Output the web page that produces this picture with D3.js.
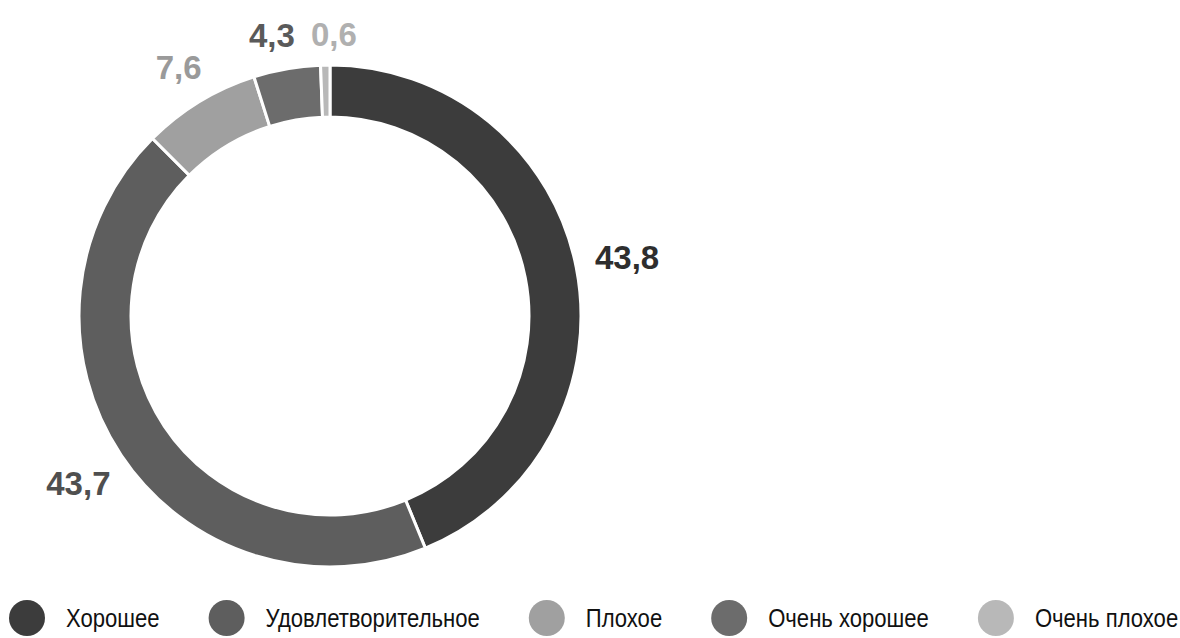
<!DOCTYPE html>
<html>
<head>
<meta charset="utf-8">
<script src="https://cdn.jsdelivr.net/npm/d3@7"></script>
<style>
    body { margin: 0; background: #fff; }
    svg { display: block; }
</style>
</head>
<body>
<script>
// data (percent)
var categories = ["Хорошее", "Удовлетворительное", "Плохое", "Очень хорошее", "Очень плохое"];
var values = [43.8, 43.7, 7.6, 4.3, 0.6];
var valueLabels = ["43,8", "43,7", "7,6", "4,3", "0,6"];
var colors = ["#3c3c3c", "#5e5e5e", "#a0a0a0", "#6c6c6c", "#b8b8b8"];
var labelColors = ["#2e2e2e", "#4f4f4f", "#9a9a9a", "#5a5a5a", "#b0b0b0"];

var w = 1180;
var h = 638;
var center = {x: 330, y: 316};
var outerR = 251,
    innerR = 199,
    labelPad = 18,
    labelSize = 33;

var svg = d3.select("body").append("svg")
    .attr("width", w)
    .attr("height", h);

var chart = svg.append("g")
    .attr("transform", "translate(" + center.x + "," + center.y + ")");

var pie = d3.pie()
    .sort(null)
    .value(function (d) { return d; });

var arcs = pie(values);

var arc = d3.arc()
    .innerRadius(innerR)
    .outerRadius(outerR);

chart.selectAll(".slice")
    .data(arcs)
    .enter()
    .append("path")
    .classed("slice", true)
    .attr("d", arc)
    .style("fill", function (d, i) { return colors[i]; })
    .style("stroke", "#fff")
    .style("stroke-width", 3);

var labels = chart.selectAll(".value")
    .data(arcs)
    .enter()
    .append("text")
    .classed("value", true)
    .attr("text-anchor", "middle")
    .attr("dominant-baseline", "central")
    .style("font-family", "'Liberation Sans', Arial, sans-serif")
    .style("font-weight", "bold")
    .style("font-size", labelSize + "px")
    .style("fill", function (d, i) { return labelColors[i]; })
    .text(function (d, i) { return valueLabels[i]; });

// put each label just outside the ring, so that its box keeps a fixed gap
var pos = [];
labels.each(function (d) {
    var a = (d.startAngle + d.endAngle) / 2;
    var tw = this.getComputedTextLength();
    var th = labelSize * 0.72;
    var r = outerR + labelPad + tw / 2 * Math.abs(Math.sin(a)) + th / 2 * Math.abs(Math.cos(a));
    pos.push({x: r * Math.sin(a), y: -r * Math.cos(a), w: tw});
});

// push apart labels that sit side by side
for (var i = 0; i < pos.length; i++) {
    for (var j = i + 1; j < pos.length; j++) {
        var p = pos[i], q = pos[j];
        if (Math.abs(p.y - q.y) > 30) continue;
        var need = (p.w + q.w) / 2 + 16;
        var dist = Math.abs(p.x - q.x);
        if (dist < need) {
            var s = (need - dist) / 2;
            if (p.x < q.x) { p.x -= s; q.x += s; } else { p.x += s; q.x -= s; }
        }
    }
}

labels.attr("transform", function (d, i) {
    return "translate(" + pos[i].x + "," + pos[i].y + ")";
});

// legend, laid out left to right
var legend = svg.append("g")
    .classed("legend", true)
    .attr("transform", "translate(0,618)");

var dotR = 18,
    textGap = 39,
    itemGap = 67,
    squeeze = 0.85; // the legend font in the picture is condensed

var items = legend.selectAll(".item")
    .data(categories)
    .enter()
    .append("g")
    .classed("item", true);

items.append("circle")
    .attr("r", dotR)
    .style("fill", function (d, i) { return colors[i]; });

items.append("text")
    .attr("transform", "translate(" + textGap + ",0) scale(" + squeeze + ",1)")
    .attr("dominant-baseline", "central")
    .style("font-family", "'Liberation Sans', Arial, sans-serif")
    .style("font-size", "26px")
    .style("fill", "#111")
    .text(function (d) { return d; });

var cx = 27;
items.each(function () {
    var g = d3.select(this);
    g.attr("transform", "translate(" + cx + ",0)");
    var len = g.select("text").node().getComputedTextLength() * squeeze;
    cx += textGap + len + itemGap;
});
</script>
</body>
</html>
